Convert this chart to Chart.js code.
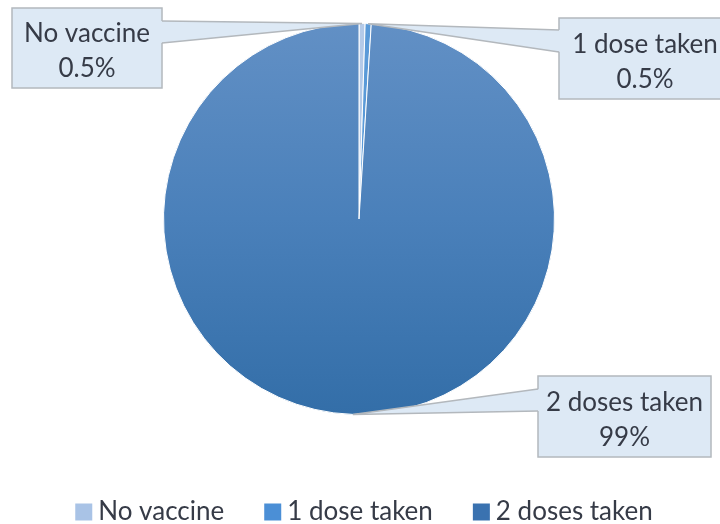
<!DOCTYPE html>
<html>
<head>
<meta charset="utf-8">
<script src="https://cdn.jsdelivr.net/npm/chart.js@4.4.1/dist/chart.umd.min.js"></script>
<style>
  html, body { margin: 0; padding: 0; background: #fff; }
  #wrap { width: 720px; height: 524px; }
</style>
</head>
<body>
<div id="wrap"><canvas id="vaccinePie"></canvas></div>
<script>
// --- data ---
const labels = ['No vaccine', '1 dose taken', '2 doses taken'];
const shares = [0.5, 0.5, 99];
const shareLabels = ['0.5%', '0.5%', '99%'];

// colori
const legendColors = ['#a9c3e6', '#4b8fd6', '#3a72b0'];
const textColor = '#363b47';
const fontFamily = 'Lato, "Open Sans", sans-serif';

// posizione dei riquadri (callout)
const callouts = [
    { x: 12, y: 8, w: 150, h: 80, side: 'right', p1: 13, p2: 35 },
    { x: 559, y: 18, w: 172, h: 81, side: 'left', p1: 12, p2: 34 },
    { x: 538, y: 376, w: 173, h: 81, side: 'left', p1: 13, p2: 35 }
];

function sliceColor(ctx) {
    const i = ctx.dataIndex;
    if (i < 2) return ['#b4cae8', '#5a9ad8'][i];
    const area = ctx.chart.chartArea;
    if (!area) return '#4a80ba';
    const g = ctx.chart.ctx.createLinearGradient(0, area.top, 0, area.bottom);
    g.addColorStop(0, '#6290c5');
    g.addColorStop(0.5, '#4a80ba');
    g.addColorStop(1, '#336ea8');
    return g;
}

const calloutPlugin = {
    id: 'callouts',
    afterDatasetsDraw(chart) {
        const ctx = chart.ctx;
        const arcs = chart.getDatasetMeta(0).data;
        ctx.save();
        arcs.forEach((arc, i) => {
            const b = callouts[i];
            const p = arc.getProps(['x', 'y', 'startAngle', 'endAngle', 'outerRadius'], true);
            const mid = (p.startAngle + p.endAngle) / 2;
            const ax = p.x + Math.cos(mid) * p.outerRadius;
            const ay = p.y + Math.sin(mid) * p.outerRadius;
            const edge = b.side === 'right' ? b.x + b.w : b.x;
            const inset = b.side === 'right' ? -2 : 2;

            // riquadro
            ctx.fillStyle = '#dde9f5';
            ctx.strokeStyle = '#b3b8bd';
            ctx.lineWidth = 1.5;
            ctx.fillRect(b.x, b.y, b.w, b.h);
            ctx.strokeRect(b.x, b.y, b.w, b.h);

            // punta
            ctx.beginPath();
            ctx.moveTo(edge + inset, b.y + b.p1);
            ctx.lineTo(ax, ay);
            ctx.lineTo(edge + inset, b.y + b.p2);
            ctx.closePath();
            ctx.fill();
            ctx.beginPath();
            ctx.moveTo(edge, b.y + b.p1);
            ctx.lineTo(ax, ay);
            ctx.lineTo(edge, b.y + b.p2);
            ctx.stroke();

            // testo
            ctx.fillStyle = textColor;
            ctx.font = '26px ' + fontFamily;
            ctx.textAlign = 'center';
            ctx.textBaseline = 'middle';
            const cx = b.x + b.w / 2;
            const cy = b.y + b.h / 2;
            ctx.fillText(labels[i], cx, cy - 14);
            ctx.fillText(shareLabels[i], cx, cy + 21);
        });
        ctx.restore();
    }
};

// legenda disegnata a mano (non occupa spazio nel layout)
const legendPlugin = {
    id: 'bottomLegend',
    afterDraw(chart) {
        const ctx = chart.ctx;
        const box = 17, gapText = 6, gapItem = 40, cy = 512;
        ctx.save();
        ctx.font = '26px ' + fontFamily;
        const widths = labels.map(l => ctx.measureText(l).width);
        const total = widths.reduce((s, w) => s + box + gapText + w, 0) + gapItem * (labels.length - 1);
        let x = 364 - total / 2;
        ctx.textBaseline = 'middle';
        ctx.textAlign = 'left';
        labels.forEach((l, i) => {
            ctx.fillStyle = legendColors[i];
            ctx.fillRect(x, cy - box / 2, box, box);
            ctx.fillStyle = textColor;
            ctx.fillText(l, x + box + gapText, cy);
            x += box + gapText + widths[i] + gapItem;
        });
        ctx.restore();
    }
};

document.addEventListener('DOMContentLoaded', function () {
    const ctx = document.getElementById('vaccinePie').getContext('2d');
    new Chart(ctx, {
        type: 'pie',
        data: {
            labels: labels,
            datasets: [{
                data: shares,
                backgroundColor: sliceColor,
                borderColor: '#ffffff',
                borderWidth: 1
            }]
        },
        options: {
            responsive: true,
            maintainAspectRatio: false,
            animation: false,
            layout: { padding: { top: 23, bottom: 109, left: 0, right: 2 } },
            plugins: {
                legend: { display: false },
                tooltip: { enabled: false }
            }
        },
        plugins: [calloutPlugin, legendPlugin]
    });
});
</script>
</body>
</html>
